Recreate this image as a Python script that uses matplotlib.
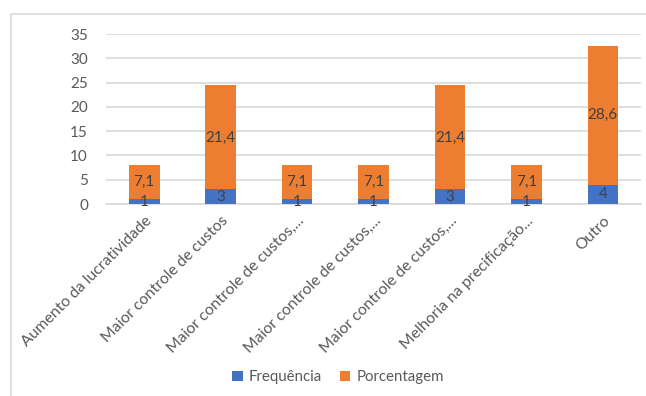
import matplotlib
matplotlib.use("Agg")
import matplotlib.pyplot as plt
from matplotlib.patches import Rectangle

categories = [
    "Aumento da lucratividade",
    "Maior controle de custos",
    "Maior controle de custos,...",
    "Maior controle de custos,...",
    "Maior controle de custos,...",
    "Melhoria na precificação...",
    "Outro",
]
frequencia = [1, 3, 1, 1, 3, 1, 4]
porcentagem = [7.1, 21.4, 7.1, 7.1, 21.4, 7.1, 28.6]
yticks = [0, 5, 10, 15, 20, 25, 30, 35]

BLUE = "#4472C4"
ORANGE = "#ED7D31"
GRID = "#D9D9D9"
TICK = "#595959"
LABEL = "#404040"

plt.rcParams["font.family"] = ["Lato", "DejaVu Sans"]

W, H = 646, 396
fig = plt.figure(figsize=(W / 100, H / 100), dpi=100)

# chart frame (top and left edges visible)
fig.patches.append(Rectangle((11 / W, -0.1), 1.2, 1 - 14 / H + 0.1,
                             transform=fig.transFigure, fill=False,
                             edgecolor=GRID, linewidth=1.2))

ax = fig.add_axes([106 / W, 1 - 204 / H, (641 - 106) / W, (204 - 34) / H])
x = list(range(len(categories)))
b1 = ax.bar(x, frequencia, width=0.4, color=BLUE, label="Frequência", zorder=3)
b2 = ax.bar(x, porcentagem, width=0.4, bottom=frequencia, color=ORANGE,
            label="Porcentagem", zorder=3)

for xi, f, p in zip(x, frequencia, porcentagem):
    ax.text(xi, f / 2, f"{f}", ha="center", va="center", fontsize=11,
            color=LABEL, zorder=4)
    ax.text(xi, f + p / 2, f"{p:.1f}".replace(".", ","), ha="center",
            va="center", fontsize=11, color=LABEL, zorder=4)

ax.set_xlim(-0.5, len(categories) - 0.5)
ax.set_ylim(0, 35)
ax.set_yticks(yticks)
ax.yaxis.grid(True, color=GRID, linewidth=1.2, zorder=0)
ax.set_axisbelow(True)
for s in ["top", "right", "left"]:
    ax.spines[s].set_visible(False)
ax.spines["bottom"].set_color(GRID)
ax.spines["bottom"].set_linewidth(1.2)
ax.tick_params(axis="y", length=0, pad=13, labelsize=11, labelcolor=TICK)
ax.tick_params(axis="x", length=0, pad=7, labelsize=11.3, labelcolor=TICK)
ax.set_xticks(x)
ax.set_xticklabels(categories, rotation=45, ha="right", va="top",
                   rotation_mode="anchor")

fig.legend(handles=[b1, b2], loc="center", bbox_to_anchor=(338 / W, 1 - 377 / H),
           ncol=2, frameon=False, fontsize=10.8, labelcolor=TICK,
           handlelength=0.7, handleheight=0.7, handletextpad=0.4,
           columnspacing=1.2)

fig.savefig("out.png", dpi=100)
